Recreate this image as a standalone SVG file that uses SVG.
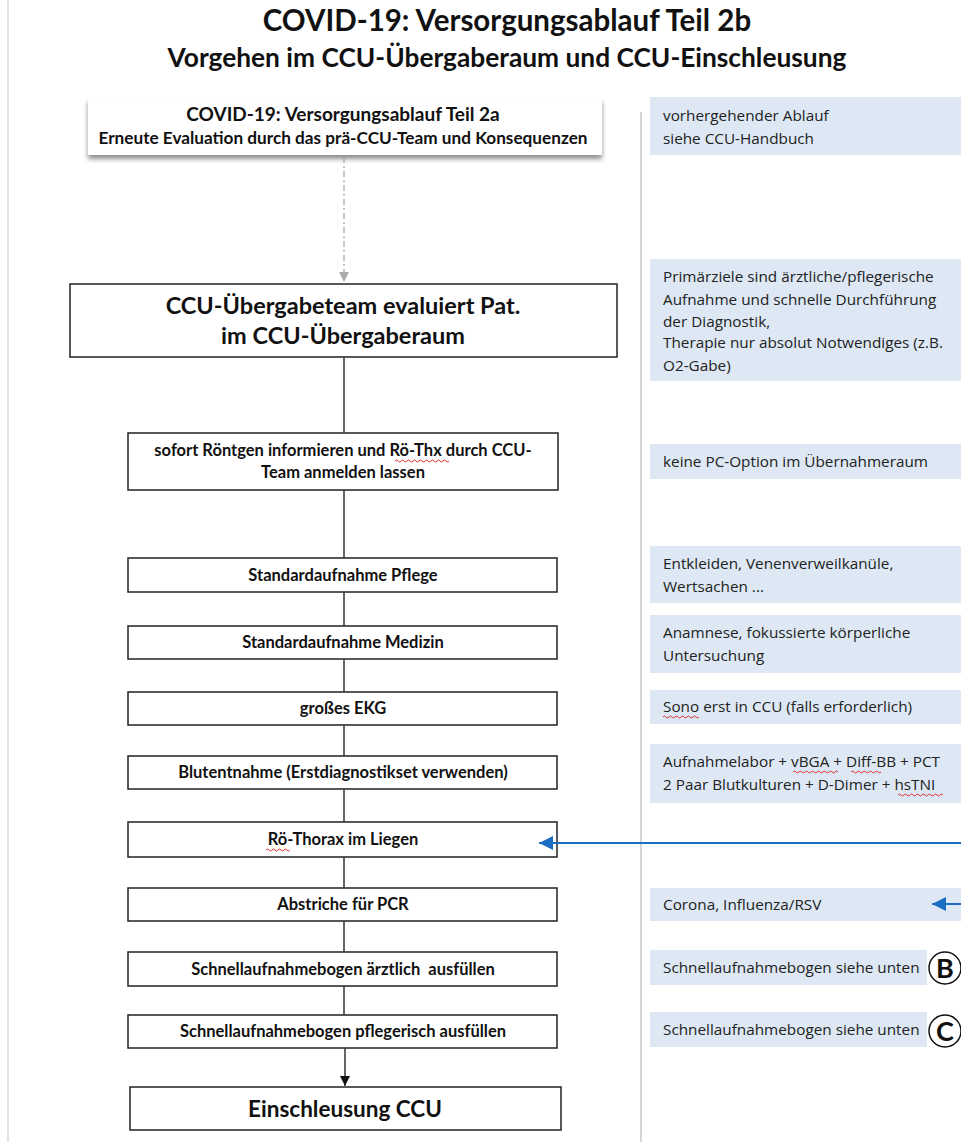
<svg xmlns="http://www.w3.org/2000/svg" width="961" height="1142" viewBox="0 0 961 1142">
  <defs>
    <marker id="arrBlack" viewBox="0 0 10 10" refX="10" refY="5" markerWidth="10" markerHeight="10" markerUnits="userSpaceOnUse" orient="auto">
      <path d="M0,0 L10,5 L0,10 z" fill="#111"/>
    </marker>
    <marker id="arrGrey" viewBox="0 0 10 10" refX="10" refY="5" markerWidth="10" markerHeight="10" markerUnits="userSpaceOnUse" orient="auto">
      <path d="M0,0 L10,5 L0,10 z" fill="#aaa"/>
    </marker>
    <marker id="arrBlue" viewBox="0 0 10 10" refX="10" refY="5" markerWidth="17" markerHeight="14" markerUnits="userSpaceOnUse" orient="auto">
      <path d="M0,0 L10,5 L0,10 z" fill="#1a6dc0"/>
    </marker>
    <filter id="shadow" x="-5%" y="-20%" width="110%" height="150%">
      <feGaussianBlur in="SourceAlpha" stdDeviation="2.5"/>
      <feOffset dx="0" dy="4"/>
      <feComponentTransfer><feFuncA type="linear" slope="0.45"/></feComponentTransfer>
      <feMerge><feMergeNode/><feMergeNode in="SourceGraphic"/></feMerge>
    </filter>
  </defs>
  <style>
    text { font-family: Lato, "Open Sans", "Liberation Sans", sans-serif; fill: #111; }
    .title { font-weight: bold; font-size: 29.5px; }
    .sub { font-weight: bold; font-size: 26.3px; }
    .step { fill: #fff; stroke: #222; stroke-width: 1.5; }
    .stepTxt { font-weight: bold; font-size: 16.5px; text-anchor: middle; }
    .bigTxt { font-weight: bold; font-size: 23.5px; text-anchor: middle; }
    .note { fill: #dde8f4; }
    .noteTxt { font-family: "Open Sans", Lato, sans-serif; font-size: 15.3px; fill: #222; }
    .link { stroke: #333; stroke-width: 1.5; fill: none; }
    .wavy { stroke: #e03030; stroke-width: 1; fill: none; }
  </style>

  <!-- page frame and column divider -->
  <line x1="8" y1="0" x2="8" y2="1142" stroke="#e4e4e4" stroke-width="2"/>
  <line x1="641" y1="112" x2="641" y2="1142" stroke="#c8c8c8" stroke-width="1.5"/>

  <!-- heading -->
  <g id="heading">
    <text class="title" x="507" y="31" text-anchor="middle">COVID-19: Versorgungsablauf Teil 2b</text>
    <text class="sub" x="507" y="67" text-anchor="middle">Vorgehen im CCU-Übergaberaum und CCU-Einschleusung</text>
  </g>

  <!-- flow steps -->
  <g id="teil2a">
    <rect x="88" y="98" width="514" height="57" fill="#fff" filter="url(#shadow)"/>
    <text class="stepTxt" x="343" y="121" style="font-size:19px">COVID-19: Versorgungsablauf Teil 2a</text>
    <text class="stepTxt" x="343" y="144" style="font-size:17.2px">Erneute Evaluation durch das prä-CCU-Team und Konsequenzen</text>
  </g>
  <g id="evaluation">
    <rect class="step" x="70" y="284" width="547" height="73"/>
    <text class="bigTxt" x="343" y="314">CCU-Übergabeteam evaluiert Pat.</text>
    <text class="bigTxt" x="343" y="344">im CCU-Übergaberaum</text>
  </g>
  <g id="roentgen">
    <rect class="step" x="128" y="433" width="430" height="57"/>
    <text class="stepTxt" x="343" y="456">sofort Röntgen informieren und Rö-Thx durch CCU-</text>
    <text class="stepTxt" x="343" y="478">Team anmelden lassen</text>
    <path class="wavy" d="M395,461 q1.5,-2 3,0 t3,0 t3,0 t3,0 t3,0 t3,0 t3,0 t3,0 t3,0 t3,0 t3,0 t3,0 t3,0 t3,0 t3,0 t3,0 t3,0 t3,0"/>
  </g>
  <g id="pflege">
    <rect class="step" x="128" y="558" width="429" height="34"/>
    <text class="stepTxt" x="343" y="581">Standardaufnahme Pflege</text>
  </g>
  <g id="medizin">
    <rect class="step" x="128" y="626" width="429" height="33"/>
    <text class="stepTxt" x="343" y="648">Standardaufnahme Medizin</text>
  </g>
  <g id="ekg">
    <rect class="step" x="128" y="692" width="429" height="33"/>
    <text class="stepTxt" x="343" y="714">großes EKG</text>
  </g>
  <g id="blut">
    <rect class="step" x="128" y="756" width="429" height="33"/>
    <text class="stepTxt" x="343" y="778">Blutentnahme (Erstdiagnostikset verwenden)</text>
  </g>
  <g id="thorax">
    <rect class="step" x="128" y="822" width="429" height="35"/>
    <text class="stepTxt" x="343" y="845">Rö-Thorax im Liegen</text>
    <path class="wavy" d="M266,850 q1.5,-2 3,0 t3,0 t3,0 t3,0 t3,0 t3,0 t3,0 t3,0"/>
  </g>
  <g id="abstriche">
    <rect class="step" x="128" y="888" width="429" height="33"/>
    <text class="stepTxt" x="343" y="910">Abstriche für PCR</text>
  </g>
  <g id="bogenArzt">
    <rect class="step" x="128" y="952" width="429" height="34"/>
    <text class="stepTxt" x="343" y="975" xml:space="preserve">Schnellaufnahmebogen ärztlich  ausfüllen</text>
  </g>
  <g id="bogenPflege">
    <rect class="step" x="128" y="1015" width="429" height="33"/>
    <text class="stepTxt" x="343" y="1037">Schnellaufnahmebogen pflegerisch ausfüllen</text>
  </g>
  <g id="einschleusung">
    <rect class="step" x="130" y="1087" width="431" height="43"/>
    <text class="bigTxt" x="345" y="1117" style="font-size:22.5px">Einschleusung CCU</text>
  </g>

  <!-- side notes -->
  <g id="noteAblauf">
    <rect class="note" x="650" y="97" width="311" height="58"/>
    <text class="noteTxt" x="663" y="121">vorhergehender Ablauf</text>
    <text class="noteTxt" x="663" y="144">siehe CCU-Handbuch</text>
  </g>
  <g id="noteZiele">
    <rect class="note" x="650" y="259" width="311" height="122"/>
    <text class="noteTxt" x="663" y="282">Primärziele sind ärztliche/pflegerische</text>
    <text class="noteTxt" x="663" y="305">Aufnahme und schnelle Durchführung</text>
    <text class="noteTxt" x="663" y="327">der Diagnostik,</text>
    <text class="noteTxt" x="663" y="348">Therapie nur absolut Notwendiges (z.B.</text>
    <text class="noteTxt" x="663" y="371">O2-Gabe)</text>
  </g>
  <g id="notePC">
    <rect class="note" x="650" y="444" width="311" height="35"/>
    <text class="noteTxt" x="663" y="467">keine PC-Option im Übernahmeraum</text>
  </g>
  <g id="noteEntkleiden">
    <rect class="note" x="650" y="546" width="311" height="57"/>
    <text class="noteTxt" x="663" y="569">Entkleiden, Venenverweilkanüle,</text>
    <text class="noteTxt" x="663" y="592">Wertsachen ...</text>
  </g>
  <g id="noteAnamnese">
    <rect class="note" x="650" y="615" width="311" height="58"/>
    <text class="noteTxt" x="663" y="638">Anamnese, fokussierte körperliche</text>
    <text class="noteTxt" x="663" y="661">Untersuchung</text>
  </g>
  <g id="noteSono">
    <rect class="note" x="650" y="690" width="311" height="34"/>
    <text class="noteTxt" x="663" y="712">Sono erst in CCU (falls erforderlich)</text>
    <path class="wavy" d="M663,717 q1.5,-2 3,0 t3,0 t3,0 t3,0 t3,0 t3,0 t3,0 t3,0 t3,0 t3,0 t3,0 t3,0"/>
  </g>
  <g id="noteLabor">
    <rect class="note" x="650" y="744" width="311" height="59"/>
    <text class="noteTxt" x="663" y="767">Aufnahmelabor + vBGA + Diff-BB + PCT</text>
    <text class="noteTxt" x="663" y="790">2 Paar Blutkulturen + D-Dimer + hsTNI</text>
    <path class="wavy" d="M793,772 q1.5,-2 3,0 t3,0 t3,0 t3,0 t3,0 t3,0 t3,0 t3,0 t3,0 t3,0 t3,0 t3,0 t3,0 t3,0 t3,0"/>
    <path class="wavy" d="M851,772 q1.5,-2 3,0 t3,0 t3,0 t3,0 t3,0 t3,0 t3,0 t3,0 t3,0 t3,0"/>
    <path class="wavy" d="M898,795 q1.5,-2 3,0 t3,0 t3,0 t3,0 t3,0 t3,0 t3,0 t3,0 t3,0 t3,0 t3,0 t3,0 t3,0 t3,0 t3,0"/>
  </g>
  <g id="noteCorona">
    <rect class="note" x="650" y="888" width="311" height="33"/>
    <text class="noteTxt" x="663" y="910">Corona, Influenza/RSV</text>
  </g>
  <g id="noteB">
    <rect class="note" x="650" y="950" width="277" height="35"/>
    <text class="noteTxt" x="663" y="973">Schnellaufnahmebogen siehe unten</text>
    <circle cx="945" cy="968" r="16" fill="#fff" stroke="#111" stroke-width="1.5"/>
    <text x="945" y="978" text-anchor="middle" style="font-weight:bold;font-size:27px">B</text>
  </g>
  <g id="noteC">
    <rect class="note" x="650" y="1012" width="277" height="35"/>
    <text class="noteTxt" x="663" y="1035">Schnellaufnahmebogen siehe unten</text>
    <circle cx="945" cy="1031" r="16" fill="#fff" stroke="#111" stroke-width="1.5"/>
    <text x="945" y="1041" text-anchor="middle" style="font-weight:bold;font-size:27px">C</text>
  </g>

  <!-- connectors -->
  <g id="connectors">
    <line x1="344" y1="157" x2="344" y2="282" stroke="#aaa" stroke-width="1.3" stroke-dasharray="6,3,2,3" marker-end="url(#arrGrey)"/>
    <line class="link" x1="344" y1="357" x2="344" y2="433"/>
    <line class="link" x1="344" y1="490" x2="344" y2="558"/>
    <line class="link" x1="344" y1="592" x2="344" y2="626"/>
    <line class="link" x1="344" y1="659" x2="344" y2="692"/>
    <line class="link" x1="344" y1="725" x2="344" y2="756"/>
    <line class="link" x1="344" y1="789" x2="344" y2="822"/>
    <line class="link" x1="344" y1="857" x2="344" y2="888"/>
    <line class="link" x1="344" y1="921" x2="344" y2="952"/>
    <line class="link" x1="344" y1="986" x2="344" y2="1015"/>
    <line class="link" x1="345" y1="1048" x2="345" y2="1086" marker-end="url(#arrBlack)"/>
    <line x1="961" y1="843" x2="539" y2="843" stroke="#1a6dc0" stroke-width="2" marker-end="url(#arrBlue)"/>
    <line x1="961" y1="904" x2="932" y2="904" stroke="#1a6dc0" stroke-width="2" marker-end="url(#arrBlue)"/>
  </g>
</svg>
